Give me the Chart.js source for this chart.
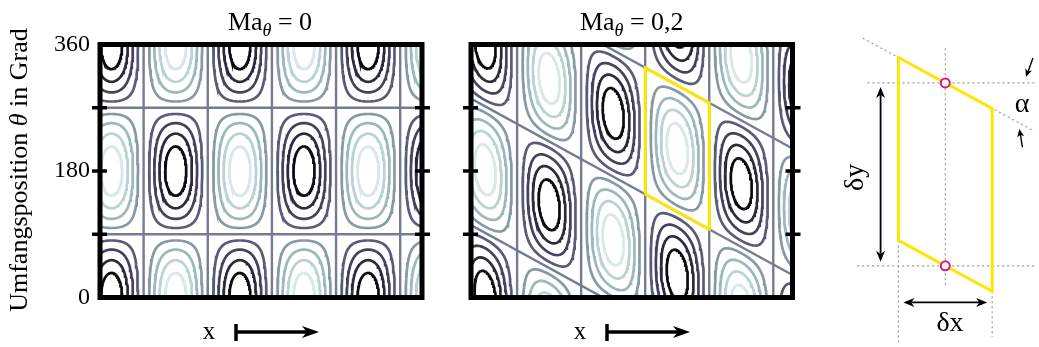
<!DOCTYPE html>
<html>
<head>
<meta charset="utf-8">
<script src="https://cdn.jsdelivr.net/npm/chart.js@4.4.0/dist/chart.umd.min.js"></script>
<style>
html, body { margin: 0; padding: 0; background: #fff; }
#wrap { position: relative; width: 1039px; height: 347px; overflow: hidden; }
canvas { position: absolute; top: 0; }
</style>
</head>
<body>
<div id="wrap">
  <canvas id="plotA" width="440" height="347" style="left:0px"></canvas>
  <canvas id="plotB" width="390" height="347" style="left:440px"></canvas>
  <canvas id="sketch" width="209" height="347" style="left:830px"></canvas>
</div>
<script>
//Panel data
var panelMa = ['0', '0,2'];              // Ma_theta of each panel
var firstZeroX = [0.68, 0.72];           // first vertical zero line, in cell widths
var darkCentreTheta = [180, 132];        // theta of a dark vortex centre in the first full cell
var shearPerCell = [0, 50];              // tilt of the zero lines, degrees per cell
var xMax = 5.02;
var thetaTicks = [0, 90, 180, 270, 360];
var thetaLabels = ['0', '', '180', '', '360'];

//Contour levels (fraction of peak) and their colours
var levels = [0.27, 0.5, 0.7, 0.87];
var darkColours = ['#595c79', '#43435d', '#2b2b3c', '#0c0c12'];
var lightColours = ['#869aa6', '#9cb8bc', '#b9d2d2', '#d8e8e8'];
var zeroColour = '#737d92';
var yellowCell = [2, 1];                 // cell, band of the marked cell in panel 2

//Sketch data
var sketchDx = 1;
var sketchDy = 180;
var sketchShear = 50;

var serif = '"Liberation Serif", "DejaVu Serif", serif';

function thetaAt(p, x, eta) {
  return eta + darkCentreTheta[p] - shearPerCell[p] * (x - firstZeroX[p] - 0.5);
}

function cellPoint(p, i, band, u, v) {
  var x = firstZeroX[p] + i + u / Math.PI;
  return {x: x, y: thetaAt(p, x, -90 + 180 * band + v * 180 / Math.PI)};
}

// closed contour of one cell, cells are a bit flatter along theta
function contour(p, i, band, c) {
  var a = Math.asin(c), n = 48, lower = [], upper = [];
  for (var k = 0; k <= n; k++) {
    var u = a + (Math.PI - 2 * a) * (1 - Math.cos(Math.PI * k / n)) / 2;
    var v = Math.asin(Math.min(1, Math.pow(c / Math.sin(u), 1 / 0.7)));
    lower.push(cellPoint(p, i, band, u, v));
    upper.push(cellPoint(p, i, band, u, Math.PI - v));
  }
  return lower.concat(upper.reverse());
}

function lineSet(data, colour, width, order) {
  return {data: data, borderColor: colour, borderWidth: width, showLine: true,
    pointRadius: 0, fill: false, tension: 0, clip: 0, order: order};
}

function panelDatasets(p) {
  var sets = [];
  var i, b;
  if (p == 1) {
    var x0 = firstZeroX[p] + yellowCell[0];
    var e0 = -90 + 180 * yellowCell[1];
    sets.push(lineSet([
      {x: x0, y: thetaAt(p, x0, e0)}, {x: x0, y: thetaAt(p, x0, e0 + 180)},
      {x: x0 + 1, y: thetaAt(p, x0 + 1, e0 + 180)}, {x: x0 + 1, y: thetaAt(p, x0 + 1, e0)},
      {x: x0, y: thetaAt(p, x0, e0)}], '#ffe600', 3, 1));
  }
  for (i = -1; i <= 4; i++) {
    for (b = -2; b <= 3; b++) {
      var dark = ((i + b) % 2 + 2) % 2 == 0;
      for (var k = 0; k < levels.length; k++) {
        sets.push(lineSet(contour(p, i, b, levels[k]), dark ? darkColours[k] : lightColours[k], 2.7, 2));
      }
    }
  }
  for (i = 0; i <= 4; i++) {
    var xz = firstZeroX[p] + i;
    sets.push(lineSet([{x: xz, y: -400}, {x: xz, y: 800}], zeroColour, 2.4, 3));
  }
  for (b = -3; b <= 4; b++) {
    var eta = 90 + 180 * b;
    sets.push(lineSet([{x: 0, y: thetaAt(p, 0, eta)}, {x: xMax, y: thetaAt(p, xMax, eta)}], zeroColour, 2.4, 3));
  }
  return sets;
}

function arrowHead(ctx, x1, y1, x2, y2, len, half) {
  var ang = Math.atan2(y2 - y1, x2 - x1);
  ctx.save();
  ctx.translate(x2, y2);
  ctx.rotate(ang);
  ctx.beginPath();
  ctx.moveTo(0, 0);
  ctx.lineTo(-len, -half);
  ctx.lineTo(-len * 0.72, 0);
  ctx.lineTo(-len, half);
  ctx.closePath();
  ctx.fill();
  ctx.restore();
}

function line(ctx, x1, y1, x2, y2) {
  ctx.beginPath();
  ctx.moveTo(x1, y1);
  ctx.lineTo(x2, y2);
  ctx.stroke();
}

var panelDeco = {
  id: 'panelDeco',
  afterDraw: function (chart) {
    var ctx = chart.ctx, a = chart.chartArea;
    var p = chart.options.plugins.panelDeco.panel;
    var yS = chart.scales.y;
    ctx.save();
    ctx.strokeStyle = '#000';
    ctx.fillStyle = '#000';
    ctx.lineWidth = 5;
    ctx.strokeRect(a.left, a.top, a.right - a.left, a.bottom - a.top);
    ctx.lineWidth = 3.5;
    thetaTicks.forEach(function (t) {
      if (t % 360 == 0) return;
      var py = yS.getPixelForValue(t);
      line(ctx, a.left - 8, py, a.left + 7, py);
      line(ctx, a.right - 7, py, a.right + 8, py);
    });

    // title Ma_theta = ...
    var big = '26px ' + serif, sub = 'italic 18px ' + serif;
    ctx.font = big;
    var w1 = ctx.measureText('Ma').width, w3 = ctx.measureText(' = ' + panelMa[p]).width;
    ctx.font = sub;
    var w2 = ctx.measureText('\u03b8').width;
    var cx = (a.left + a.right) / 2 + (p == 0 ? 9 : 0);
    var tx = cx - (w1 + w2 + w3) / 2;
    ctx.textAlign = 'left';
    ctx.textBaseline = 'alphabetic';
    ctx.font = big;
    ctx.fillText('Ma', tx, 30);
    ctx.font = sub;
    ctx.fillText('\u03b8', tx + w1, 36);
    ctx.font = big;
    ctx.fillText(' = ' + panelMa[p], tx + w1 + w2, 30);

    // x direction arrow
    ctx.font = '25px ' + serif;
    ctx.textAlign = 'center';
    ctx.fillText('x', a.left + 109, 339);
    var bx = a.left + 136, tip = a.left + 219, ay = 332;
    ctx.lineWidth = 3.5;
    line(ctx, bx, ay - 8, bx, ay + 9);
    line(ctx, bx, ay, tip - 12, ay);
    arrowHead(ctx, bx, ay, tip, ay, 17, 6);

    // y title
    if (p == 0) {
      ctx.translate(20, 170);
      ctx.rotate(-Math.PI / 2);
      var f1 = '26px ' + serif, f2 = 'italic 26px ' + serif;
      var s1 = 'Umfangsposition ', s2 = '\u03b8', s3 = ' in Grad';
      ctx.font = f1;
      var l1 = ctx.measureText(s1).width, l3 = ctx.measureText(s3).width;
      ctx.font = f2;
      var l2 = ctx.measureText(s2).width;
      var sx = -(l1 + l2 + l3) / 2;
      ctx.textAlign = 'left';
      ctx.textBaseline = 'middle';
      ctx.font = f1;
      ctx.fillText(s1, sx, 0);
      ctx.font = f2;
      ctx.fillText(s2, sx + l1, 0);
      ctx.font = f1;
      ctx.fillText(s3, sx + l1 + l2, 0);
    }
    ctx.restore();
  }
};

function panelConfig(p) {
  var yAxis = {
    type: 'linear', min: 0, max: 360, display: p == 0,
    grid: {display: false, drawTicks: false},
    border: {display: false},
    ticks: {
      stepSize: 90, padding: 10, color: '#000',
      font: {family: serif, size: 24},
      callback: function (v) { return thetaLabels[thetaTicks.indexOf(v)]; }
    }
  };
  if (p == 0) yAxis.afterFit = function (scale) { scale.width = 100; };
  return {
    type: 'scatter',
    data: {datasets: panelDatasets(p)},
    options: {
      responsive: false,
      animation: false,
      events: [],
      layout: {padding: p == 0 ? {top: 44.5, bottom: 49.5, left: 0, right: 18}
                                : {top: 44.5, bottom: 49.5, left: 31, right: 37.5}},
      scales: {
        x: {type: 'linear', min: 0, max: xMax, display: false},
        y: yAxis
      },
      plugins: {legend: {display: false}, tooltip: {enabled: false}, panelDeco: {panel: p}}
    },
    plugins: [panelDeco]
  };
}

var chartA = new Chart(document.getElementById('plotA'), panelConfig(0));
var chartB = new Chart(document.getElementById('plotB'), panelConfig(1));

//Sketch of one cell
var sh = sketchShear;
var topMid = sketchDy - sh / 2, botMid = -sh / 2;
function dottedSet(data) {
  var s = lineSet(data, '#9a9a9a', 1.2, 3);
  s.borderDash = [2, 3];
  s.clip = false;
  return s;
}

var sketchSets = [
  lineSet([{x: 0, y: 0}, {x: 0, y: sketchDy}, {x: sketchDx, y: sketchDy - sh},
           {x: sketchDx, y: -sh}, {x: 0, y: 0}], '#ffe600', 3, 2),
  {data: [{x: sketchDx / 2, y: topMid}, {x: sketchDx / 2, y: botMid}], showLine: false,
   pointRadius: 4.5, pointBorderColor: '#e0157a', pointBackgroundColor: '#fff',
   pointBorderWidth: 2, order: 1},
  dottedSet([{x: -0.38, y: sketchDy + 0.38 * sh}, {x: 1.45, y: sketchDy - 1.45 * sh}]),
  dottedSet([{x: -0.33, y: topMid}, {x: 1.45, y: topMid}]),
  dottedSet([{x: -0.44, y: botMid}, {x: 1.45, y: botMid}]),
  dottedSet([{x: sketchDx / 2, y: 189}, {x: sketchDx / 2, y: -45}]),
  dottedSet([{x: 0, y: 0}, {x: 0, y: -100}]),
  dottedSet([{x: sketchDx, y: -sh}, {x: sketchDx, y: -95}])
];

var sketchDeco = {
  id: 'sketchDeco',
  afterDraw: function (chart) {
    var ctx = chart.ctx, xs = chart.scales.x, ys = chart.scales.y;
    ctx.save();
    ctx.strokeStyle = '#000';
    ctx.fillStyle = '#000';
    ctx.lineWidth = 1.8;
    // delta y
    var ax = xs.getPixelForValue(-0.19);
    var y1 = ys.getPixelForValue(topMid) + 4, y2 = ys.getPixelForValue(botMid) - 4;
    line(ctx, ax, y1 + 8, ax, y2 - 8);
    arrowHead(ctx, ax, y2, ax, y1, 11, 4.5);
    arrowHead(ctx, ax, y1, ax, y2, 11, 4.5);
    // delta x
    var ay = ys.getPixelForValue(-61);
    var x1 = xs.getPixelForValue(0) + 5, x2 = xs.getPixelForValue(sketchDx) - 5;
    line(ctx, x1 + 8, ay, x2 - 8, ay);
    arrowHead(ctx, x2, ay, x1, ay, 11, 4.5);
    arrowHead(ctx, x1, ay, x2, ay, 11, 4.5);
    // alpha arrows
    ctx.lineWidth = 1.4;
    var t1x = xs.getPixelForValue(1.36), t1y = ys.getPixelForValue(topMid) - 6;
    line(ctx, t1x + 7, t1y - 19, t1x + 2, t1y - 5);
    arrowHead(ctx, t1x + 7, t1y - 19, t1x, t1y, 8, 3.5);
    var t2x = xs.getPixelForValue(1.29), t2y = ys.getPixelForValue(sketchDy - 1.29 * sh) + 6;
    line(ctx, t2x + 3, t2y + 18, t2x + 1, t2y + 5);
    arrowHead(ctx, t2x + 3, t2y + 18, t2x, t2y, 8, 3.5);
    // labels
    ctx.font = '28px ' + serif;
    ctx.textAlign = 'center';
    ctx.textBaseline = 'middle';
    ctx.fillText('\u03b1', xs.getPixelForValue(1.32), ys.getPixelForValue(134));
    ctx.fillText('\u03b4x', xs.getPixelForValue(0.55), ys.getPixelForValue(-82));
    ctx.translate(xs.getPixelForValue(-0.46), ys.getPixelForValue(62));
    ctx.rotate(-Math.PI / 2);
    ctx.fillText('\u03b4y', 0, 0);
    ctx.restore();
  }
};

var sketch = new Chart(document.getElementById('sketch'), {
  type: 'scatter',
  data: {datasets: sketchSets},
  options: {
    responsive: false,
    animation: false,
    events: [],
    layout: {padding: 0},
    scales: {
      x: {type: 'linear', min: -0.66, max: 1.43, display: false},
      y: {type: 'linear', min: -98.5, max: 230.2, display: false}
    },
    plugins: {legend: {display: false}, tooltip: {enabled: false}}
  },
  plugins: [sketchDeco]
});
</script>
</body>
</html>
